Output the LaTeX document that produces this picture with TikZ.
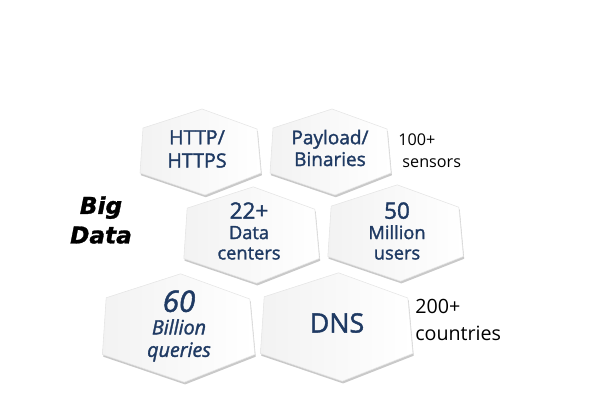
\documentclass[tikz,border=0pt]{standalone}
\usepackage{fontspec}
\setmainfont{Open Sans}
\newfontfamily\hexfont[FakeBold=1.6]{Open Sans}
\newfontfamily\bigfont[FakeBold=1.2]{DejaVu Sans}
\usepackage{xcolor}
\usetikzlibrary{shadows, math}

\definecolor{hextext}{RGB}{31,58,99}

\tikzset{
  hexcell/.style={left color=black!5, right color=white, draw=black!10, line width=0.4,
    drop shadow={shadow xshift=0.6pt, shadow yshift=-1.6pt, opacity=0.3, fill=black!70}},
  hexlabel/.style={text=hextext, align=center, inner sep=0pt},
  sidelabel/.style={anchor=west, align=left, inner sep=0pt}
}

% #1 = centre, #2 = size of the cell
\newcommand{\hexa}[2]{%
  \begin{scope}[shift={#1}, scale=#2]
    \path[hexcell] (-57,-24) -- (2,-43) -- (57,-23) -- (61,21) -- (5,43) -- (-60,21) -- cycle;
  \end{scope}}

\begin{document}
\begin{tikzpicture}[x=0.025cm, y=-0.025cm]
\tikzmath{
\rtop=1;
\rmid=1.12;
\rlow=1.26;
}
\useasboundingbox (0,0) rectangle (600,412);

% cells, back to front
\hexa{(200,152)}{\rtop}
\hexa{(330,152)}{\rtop}
\hexa{(251,235)}{\rmid}
\hexa{(395,233)}{\rmid}
\hexa{(178,328)}{\rlow}
\hexa{(336,327)}{\rlow}

\node[hexlabel, font=\hexfont\fontsize{14}{16.5}\selectfont] (http) at (197,149) {HTTP/\\HTTPS};
\node[hexlabel, font=\hexfont\fontsize{13.5}{15.5}\selectfont] (payload) at (330,148) {Payload/\\Binaries};
\node[hexlabel, font=\hexfont\fontsize{13}{14.5}\selectfont] (dc) at (249,231)
  {{\fontsize{16}{16}\selectfont 22+}\\Data\\centers};
\node[hexlabel, font=\hexfont\fontsize{13}{14.5}\selectfont] (users) at (397,231)
  {{\fontsize{16}{16}\selectfont 50}\\Million\\users};
\node[hexlabel, font=\hexfont\fontsize{14}{16}\itshape\selectfont] (queries) at (179,326)
  {{\fontsize{21}{21}\selectfont 60}\\Billion\\queries};
\node[hexlabel, font=\hexfont\fontsize{19}{19}\selectfont] (dns) at (337,323) {DNS};

\node[sidelabel, font=\fontsize{11.5}{15.5}\selectfont] (sensors) at (398,151) {100+\\\ sensors};
\node[sidelabel, font=\fontsize{14}{19.5}\selectfont] (countries) at (415,320) {200+\\countries};

\node[align=center, inner sep=0pt, font=\bigfont\bfseries\itshape\fontsize{16.5}{21}\selectfont] (bigdata) at (101,220) {Big\\Data};

\end{tikzpicture}
\end{document}
